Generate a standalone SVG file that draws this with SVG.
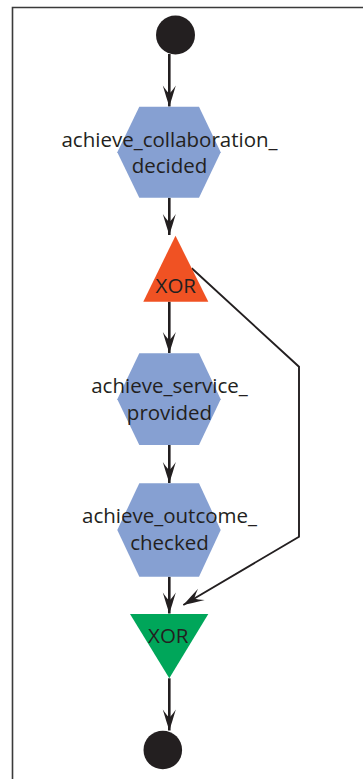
<svg xmlns="http://www.w3.org/2000/svg" width="363" height="779" viewBox="0 0 363 779">
  <style>
    .frame { fill: none; stroke: #3a3a3a; stroke-width: 1.6; }
    .goal { fill: #86a0d2; }
    .split { fill: #f05223; }
    .join { fill: #00a65a; }
    .state { fill: #231f20; }
    .label { font-family: "Open Sans", "Liberation Sans", sans-serif; font-size: 20.5px; fill: #231f20; text-anchor: middle; }
    .flow { fill: none; stroke: #231f20; stroke-width: 2.6; marker-end: url(#head); }
    .alt { fill: none; stroke: #231f20; stroke-width: 1.9; stroke-linejoin: miter; marker-end: url(#head); }
  </style>
  <defs>
    <marker id="head" markerUnits="userSpaceOnUse" orient="auto" refX="0" refY="0" markerWidth="30" markerHeight="30" overflow="visible">
      <path d="M0,0 Q-9,-3 -21,-6.5 Q-15,-2.5 -13,0 Q-15,2.5 -21,6.5 Q-9,3 0,0 Z" fill="#231f20"/>
    </marker>
  </defs>

  <!-- enclosing frame -->
  <path class="frame" d="M12.5,779 V7.5 H363"/>

  <!-- connectors -->
  <g id="connectors">
    <line class="flow" x1="169.3" y1="54" x2="169.3" y2="106.5"/>
    <line class="flow" x1="169.3" y1="197.7" x2="169.3" y2="235"/>
    <line class="flow" x1="169.3" y1="301.7" x2="169.3" y2="353"/>
    <line class="flow" x1="169.3" y1="445" x2="169.3" y2="483"/>
    <line class="flow" x1="169.3" y1="576.7" x2="169.3" y2="613.5"/>
    <line class="flow" x1="169.3" y1="678.3" x2="169.3" y2="730.5"/>
    <path class="alt" d="M191.7,268.3 L299,366.7 L299,536.7 L183.3,605"/>
  </g>

  <g id="start">
    <circle class="state" cx="175.5" cy="35" r="19.5"/>
  </g>

  <g id="achieve_collaboration_decided">
    <polygon class="goal" points="139.3,106.7 199,106.7 220.7,152.2 199,197.7 139.3,197.7 117.3,152.2"/>
    <text class="label" x="169.5" y="146.7">achieve_collaboration_</text>
    <text class="label" x="169.5" y="173">decided</text>
  </g>

  <g id="xor_split">
    <polygon class="split" points="175.5,235.7 208.3,301.7 143.3,301.7"/>
    <text class="label" x="175.8" y="293">XOR</text>
  </g>

  <g id="achieve_service_provided">
    <polygon class="goal" points="139.3,353.3 199,353.3 220.7,399.2 199,445 139.3,445 117.3,399.2"/>
    <text class="label" x="169.5" y="393.3">achieve_service_</text>
    <text class="label" x="169.5" y="420">provided</text>
  </g>

  <g id="achieve_outcome_checked">
    <polygon class="goal" points="139.3,483.3 199,483.3 220.7,530 199,576.7 139.3,576.7 117.3,530"/>
    <text class="label" x="169.5" y="523.3">achieve_outcome_</text>
    <text class="label" x="169.5" y="550">checked</text>
  </g>

  <g id="xor_join">
    <polygon class="join" points="130,614 208.3,614 169.3,678.3"/>
    <text class="label" x="168.3" y="643.3">XOR</text>
  </g>

  <g id="end">
    <circle class="state" cx="162.8" cy="750" r="19.3"/>
  </g>
</svg>
